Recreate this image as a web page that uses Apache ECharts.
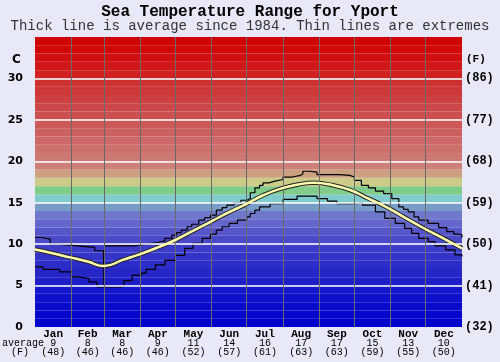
<!DOCTYPE html>
<html>
<head>
<meta charset="utf-8">
<script src="https://cdn.jsdelivr.net/npm/echarts@6/dist/echarts.min.js"></script>
<style>
html,body{margin:0;padding:0;background:#e8e8f8;}
#chart{width:500px;height:362px;}
</style>
</head>
<body>
<div id="chart"></div>
<script>
// ---- data ----
const months = ['Jan','Feb','Mar','Apr','May','Jun','Jul','Aug','Sep','Oct','Nov','Dec'];
const monthDays = [31,28,31,30,31,30,31,31,30,31,30,31];
const monthAvgC = ['9','8','8','9','11','14','16','17','17','15','13','10'];
const monthAvgF = ['(48)','(46)','(46)','(46)','(52)','(57)','(61)','(63)','(63)','(59)','(55)','(50)'];
const yTicksC = ['0','5','10','15','20','25','30'];
const yTicksF = ['(32)','(41)','(50)','(59)','(68)','(77)','(86)'];

const avgLine = [[0,9.35],[15,8.9],[30,8.4],[45,7.9],[59,7.35],[75,8.1],[90,8.8],[105,9.6],[120,10.5],[135,11.6],[150,12.7],[165,13.8],[180,14.8],[195,15.9],[210,16.7],[225,17.2],[238,17.4],[255,17.1],[270,16.5],[285,15.5],[300,14.5],[315,13.3],[330,12.1],[345,11.0],[365,9.5]];

const maxLine = [[0,10.8],[6,10.6],[13,10.0],[20,9.8],[36,9.6],[51,9.2],[58.5,9.2],[59,4.9],[59.5,9.8],[72,9.8],[85,10.0],[95,10.2],[105,10.4],[111,10.7],[117,11.1],[121,11.4],[125,11.7],[130,12.1],[134,12.4],[140,12.9],[145,13.2],[150,13.5],[155,14.1],[160,14.4],[164,14.7],[170,15.0],[176,15.3],[181,15.5],[184,16.2],[188,16.8],[192,17.1],[195,17.4],[200,17.6],[205,17.8],[212,18.1],[220,18.3],[227,18.5],[229,18.8],[235,18.7],[241,18.4],[255,18.4],[260,18.3],[269,18.1],[273,17.7],[279,17.1],[285,16.8],[291,16.4],[298,16.1],[305,15.5],[311,14.5],[315,14.2],[319,13.9],[324,13.3],[328,12.9],[336,12.5],[345,12.0],[352,11.5],[358,11.2],[362,11.1],[365,10.8]];

const minLine = [[0,7.25],[7,6.95],[21,6.65],[31,6.05],[37,5.85],[46,5.45],[53,4.85],[61,4.85],[74,4.9],[76,5.6],[83,6.25],[91,6.5],[95,6.95],[103,7.5],[111,8.05],[120,8.65],[128,9.5],[135,10.1],[143,10.7],[150,11.2],[155,11.7],[160,12.1],[166,12.5],[173,12.9],[181,13.3],[184,13.7],[188,14.1],[192,14.5],[201,14.9],[212,15.4],[224,15.8],[232,15.8],[241,15.5],[250,15.2],[258,14.9],[269,14.9],[275,15.0],[280,14.7],[285,14.7],[291,13.9],[299,13.1],[308,12.5],[316,11.9],[322,11.3],[328,10.7],[336,10.3],[342,9.8],[351,9.3],[359,8.7],[365,8.5]];

// ---- styling ----
const bandColors = ['#0000cc','#0505cc','#0a0acc','#1010cc','#1616cc','#1e1ec8','#2525c8','#2c2cc8','#3434c8','#3c3cc8',
 '#4a4ac8','#5656ca','#6466cc','#7078cc','#7a9cc8','#80cccc','#80cc88','#cccc88','#cca080','#cc8078',
 '#cc7874','#cc706c','#cc6868','#cc6060','#cc5858','#cc5050','#cc4848','#cc4040','#cc3838','#cc3030',
 '#d02020','#d01818','#d01010','#d00808','#d00000'];

const monthStarts = [];
const monthMids = [];
let acc = 0;
monthDays.forEach(d => { monthStarts.push(acc); monthMids.push(acc + d/2); acc += d; });

const bandData = bandColors.map((c,i) => [{yAxis:i, itemStyle:{color:c}}, {yAxis:i+1}]);
const hLines = [5,10,15,20,25,30].map(v => ({yAxis:v, lineStyle:{color:'#ffffff', width:1.5, type:'solid'}}));
const vLines = monthStarts.slice(1).map(v => ({xAxis:v, lineStyle:{color:'#6a6a6a', width:1, type:'solid'}}));

const mono = '"Liberation Mono", "Courier New", monospace';

const chart = echarts.init(document.getElementById('chart'), null, {renderer:'canvas'});
chart.setOption({
  backgroundColor:'#e8e8f8',
  animation:false,
  title:[
    {text:'Sea Temperature Range for Yport', left:'center', top:4, padding:0,
     textStyle:{fontFamily:mono, fontWeight:'bold', fontSize:16, color:'#000'}},
    {text:'Thick line is average since 1984. Thin lines are extremes', left:'center', top:19, padding:0,
     textStyle:{fontFamily:mono, fontWeight:'normal', fontSize:14, color:'#333'}}
  ],
  grid:{left:35, right:38, top:37, bottom:35},
  xAxis:{
    type:'value', min:0, max:365,
    axisLine:{show:false}, axisTick:{show:false}, splitLine:{show:false},
    axisLabel:{
      customValues: monthMids,
      margin:2,
      formatter:(v) => {
        const i = monthMids.findIndex(m => Math.abs(m - v) < 0.01);
        if (i < 0) return '';
        return '{m|' + months[i] + '}\n{a|' + monthAvgC[i] + '}\n{f|' + monthAvgF[i] + '}';
      },
      rich:{
        m:{fontFamily:mono, fontWeight:'bold', fontSize:11, color:'#000', lineHeight:10},
        a:{fontFamily:mono, fontSize:10, color:'#000', lineHeight:9},
        f:{fontFamily:mono, fontSize:10, color:'#000', lineHeight:9}
      }
    }
  },
  yAxis:[
    {type:'value', min:0, max:35, interval:5,
     axisLine:{show:false}, axisTick:{show:false}, splitLine:{show:false},
     axisLabel:{margin:12, color:'#000', fontFamily:'"DejaVu Sans", Verdana, sans-serif', fontWeight:'bold', fontSize:11,
       formatter:(v) => yTicksC[v/5] || ''}},
    {type:'value', min:0, max:35, interval:5, position:'right',
     axisLine:{show:false}, axisTick:{show:false}, splitLine:{show:false},
     axisLabel:{margin:3, color:'#000', fontFamily:mono, fontWeight:'bold', fontSize:12,
       formatter:(v) => yTicksF[v/5] || ''}}
  ],
  graphic:[
    {type:'text', left:12, top:54, style:{text:'C', font:'bold 12px "DejaVu Sans", sans-serif', fill:'#000'}},
    {type:'text', left:466, top:54, style:{text:'(F)', font:'bold 11px "Liberation Mono", monospace', fill:'#000'}},
    {type:'text', left:2, top:338, style:{text:'average', font:'10px "Liberation Mono", monospace', fill:'#000'}},
    {type:'text', left:11, top:347, style:{text:'(F)', font:'10px "Liberation Mono", monospace', fill:'#000'}}
  ],
  series:[
    {type:'line', z:1, silent:true, data:[[0,0],[365,0]], showSymbol:false, lineStyle:{width:0, opacity:0},
     markArea:{silent:true, data:bandData}},
    {type:'line', z:2, silent:true, data:[[0,0],[365,0]], showSymbol:false, lineStyle:{width:0, opacity:0},
     markLine:{silent:true, symbol:'none', label:{show:false}, data: hLines.concat(vLines), animation:false}},
    {type:'line', z:3, data:maxLine, step:'end', showSymbol:false, lineStyle:{color:'#000', width:1.2}},
    {type:'line', z:3, data:minLine, step:'end', showSymbol:false, lineStyle:{color:'#000', width:1.2}},
    {type:'line', z:4, data:avgLine, smooth:true, showSymbol:false, lineStyle:{color:'#222', width:4.5}},
    {type:'line', z:5, data:avgLine, smooth:true, showSymbol:false, lineStyle:{color:'#ffffb0', width:2.5}}
  ]
});
</script>
</body>
</html>
